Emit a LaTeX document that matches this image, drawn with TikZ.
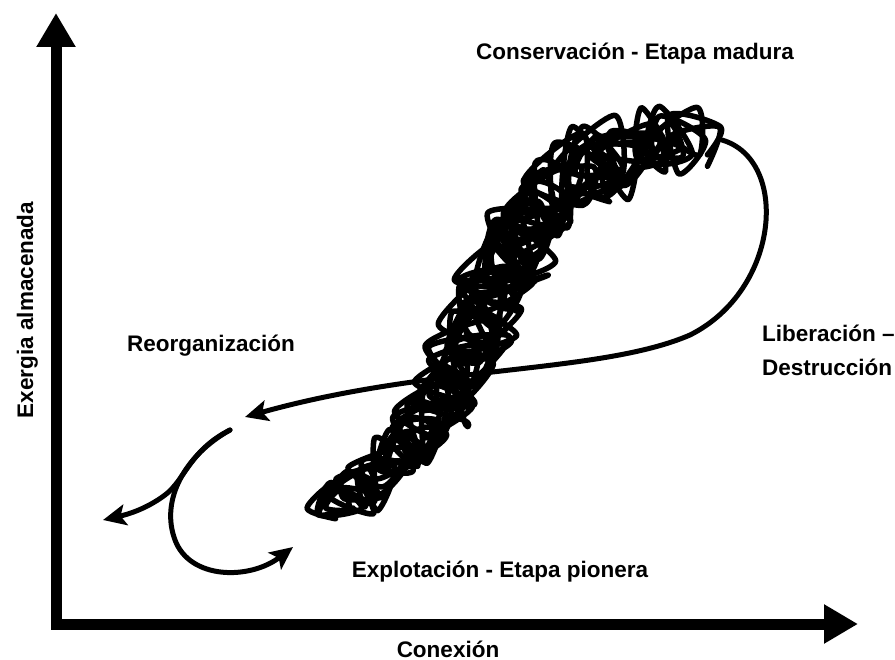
\documentclass[tikz,border=0pt]{standalone}
\usepackage{fontspec}
\setmainfont{Liberation Sans}
\usetikzlibrary{arrows.meta}

\begin{document}
\begin{tikzpicture}[
	x=1pt, y=-1pt,
	every node/.style={font=\fontsize{22.5}{27}\selectfont\bfseries,
						inner sep=0pt
						},
	axis/.style={line width=11pt,
				 {Triangle[length=34pt,width=37pt]}-{Triangle[length=34pt,width=37pt]}
	},
	flow/.style={line width=5pt, line cap=round,
				 -{Stealth[length=23pt,width=21pt,inset=5pt]}
	},
	scribble/.style={line width=5.5pt, line join=round, line cap=round},
	declare function={
		bx(\t)=(1-\t)^3*324+3*(1-\t)^2*\t*545+3*(1-\t)*\t^2*430+\t^3*718;
		by(\t)=(1-\t)^3*508+3*(1-\t)^2*\t*400+3*(1-\t)*\t^2*140+\t^3*140;
		bw(\t)=30+12*sin(180*\t)+16*\t;
	}
]
	\useasboundingbox (0,0) rectangle (895,660);

	% axes
	\coordinate (ytip) at (56,13);
	\coordinate (origin) at (56,624);
	\coordinate (xtip) at (858,624);
	\draw[axis] (ytip) -- (origin) -- (xtip);

	\node (xlabel) [anchor=base] at (448,657) {Conexión};
	\node (ylabel) [anchor=base, rotate=90] at (33,310) {Exergia almacenada};

	% tangle of the growing phase
	\pgfmathsetseed{3}
	\foreach \k/\st in {0/127, 1/113} {
		\draw[scribble] plot[smooth, variable=\i, domain=0:137, samples=138]
			({bx(\i/139)+bw(\i/139)*(0.25+0.75*rnd)*cos(mod(\i,36)*\st+\k*50)},
			 {by(\i/139)+bw(\i/139)*(0.25+0.75*rnd)*sin(mod(\i,36)*\st+\k*50)});
	}

	% release loop
	\coordinate (top) at (722,140);
	\coordinate (bend) at (690,335);
	\coordinate (reorg) at (245,417);
	\draw[flow] (top) .. controls (790,160) and (780,290) .. (bend)
		.. controls (600,374) and (430,365) .. (reorg);

	% reorganisation
	\coordinate (split) at (230,430);
	\coordinate (knee) at (165,495);
	\coordinate (out) at (103,520);
	\coordinate (low) at (175,540);
	\coordinate (back) at (293,547);
	\draw[flow] (split) .. controls (190,450) and (185,480) .. (knee)
		.. controls (145,510) and (125,515) .. (out);
	\draw[flow] (split) .. controls (185,455) and (160,500) .. (low)
		.. controls (190,580) and (250,580) .. (back);

	\node (conserv) [anchor=base] at (635,60) {Conservación - Etapa madura};
	\node (explot) [anchor=base] at (500,577) {Explotación - Etapa pionera};
	\node (reorgtext) [anchor=base] at (211,352) {Reorganización};
	\node (liber) [anchor=base west] at (762,342) {Liberación –};
	\node (destr) [anchor=base west] at (762,376) {Destrucción};
\end{tikzpicture}
\end{document}
